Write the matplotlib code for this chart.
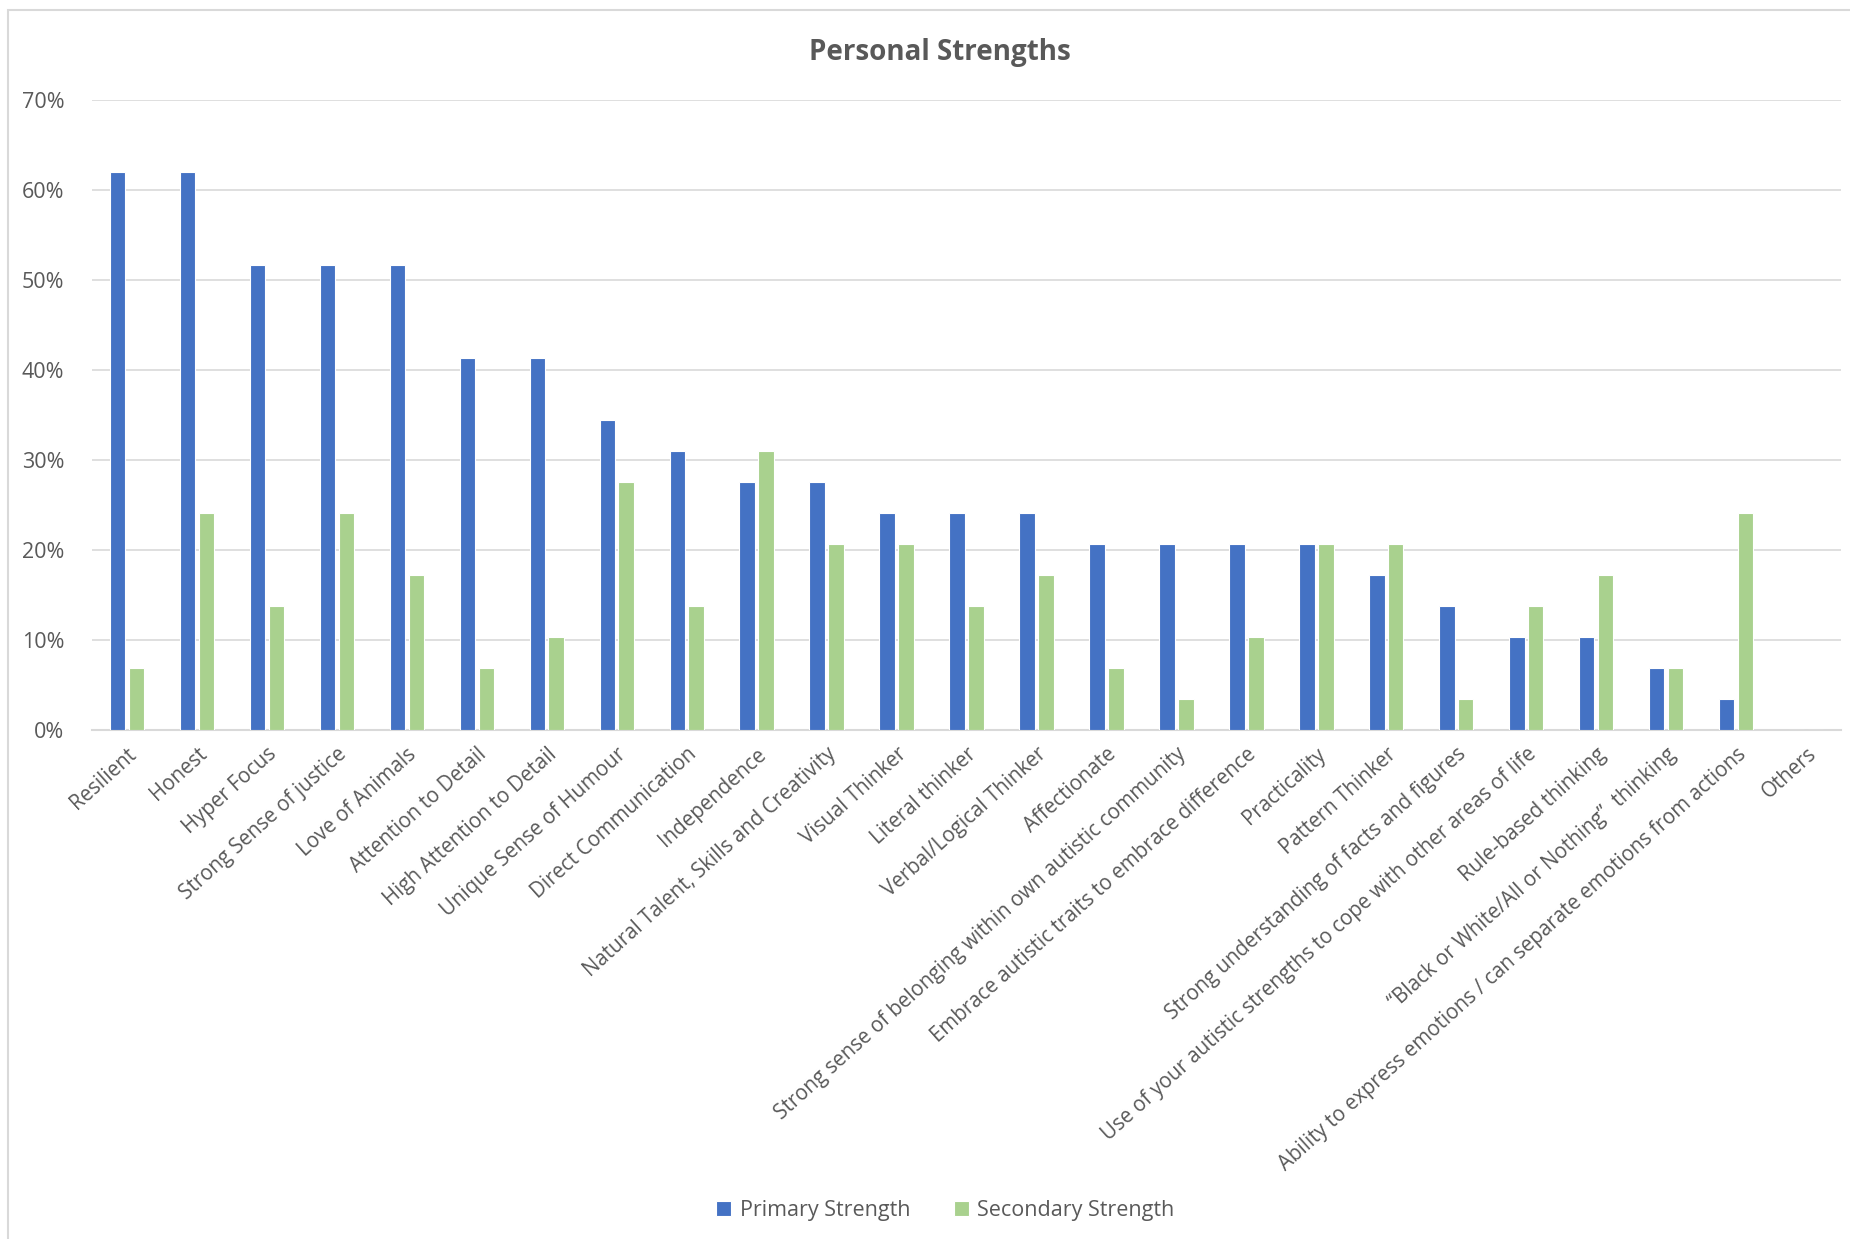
import matplotlib
matplotlib.use("Agg")
import matplotlib.pyplot as plt
import numpy as np
from matplotlib.patches import Rectangle
from matplotlib.ticker import FuncFormatter

categories = [
    "Resilient", "Honest", "Hyper Focus", "Strong Sense of justice", "Love of Animals",
    "Attention to Detail", "High Attention to Detail", "Unique Sense of Humour",
    "Direct Communication", "Independence", "Natural Talent, Skills and Creativity",
    "Visual Thinker", "Literal thinker", "Verbal/Logical Thinker", "Affectionate",
    "Strong sense of belonging within own autistic community",
    "Embrace autistic traits to embrace difference", "Practicality", "Pattern Thinker",
    "Strong understanding of facts and figures",
    "Use of your autistic strengths to cope with other areas of life",
    "Rule-based thinking", "\u201cBlack or White/All or Nothing\u201d  thinking",
    "Ability to express emotions / can separate emotions from actions", "Others",
]
primary = [62.07, 62.07, 51.72, 51.72, 51.72, 41.38, 41.38, 34.48, 31.03, 27.59, 27.59,
           24.14, 24.14, 24.14, 20.69, 20.69, 20.69, 20.69, 17.24, 13.79, 10.34, 10.34,
           6.90, 3.45, 0.0]
secondary = [6.90, 24.14, 13.79, 24.14, 17.24, 6.90, 10.34, 27.59, 13.79, 31.03, 20.69,
             20.69, 13.79, 17.24, 6.90, 3.45, 10.34, 20.69, 20.69, 3.45, 13.79, 17.24,
             6.90, 24.14, 0.0]
yticks = [0, 10, 20, 30, 40, 50, 60, 70]

plt.rcParams['font.family'] = ['Open Sans', 'DejaVu Sans']
gray = '#595959'

fig = plt.figure(figsize=(18.5, 12.39), dpi=100)
ax = fig.add_axes([0.0497, 0.411, 0.9455, 0.508])

x = np.arange(len(categories))
w = 0.22
ax.bar(x - 0.135, primary, width=w, color='#4472C4', edgecolor='white', linewidth=0.8,
       label='Primary Strength', zorder=3)
ax.bar(x + 0.135, secondary, width=w, color='#A9D18E', edgecolor='white', linewidth=0.8,
       label='Secondary Strength', zorder=3)

ax.set_xlim(-0.5, len(categories) - 0.5)
ax.set_ylim(0, 70)
ax.set_yticks(yticks)
ax.yaxis.set_major_formatter(FuncFormatter(lambda v, p: f"{int(v)}%"))
ax.grid(axis='y', color='#d9d9d9', linewidth=1.2, zorder=0)
for s in ['top', 'right', 'left']:
    ax.spines[s].set_visible(False)
ax.spines['bottom'].set_color('#d9d9d9')
ax.spines['bottom'].set_linewidth(1.5)
ax.tick_params(axis='y', length=0, colors=gray, labelsize=15.5, pad=20)
ax.set_xticks(x)
ax.set_xticklabels(categories, rotation=42, ha='right', rotation_mode='anchor', color=gray,
                   fontsize=14.8)
ax.tick_params(axis='x', length=0, colors=gray, pad=10)

fig.text(0.508, 0.958, "Personal Strengths", ha='center', va='center', fontsize=20,
         fontweight='bold', color=gray)

leg = fig.legend(loc='center', bbox_to_anchor=(0.511, 0.023), ncol=2, frameon=False,
                 fontsize=15.5, handlelength=0.7, handleheight=0.7, columnspacing=2.0,
                 handletextpad=0.4)
for t in leg.get_texts():
    t.set_color(gray)

fig.patches.append(Rectangle((8 / 1850, -0.1), 1.2, 1 - 10 / 1239 + 0.1,
                             transform=fig.transFigure, fill=False,
                             edgecolor='#d9d9d9', linewidth=1.5))

fig.savefig("out.png", dpi=100, facecolor='white')
